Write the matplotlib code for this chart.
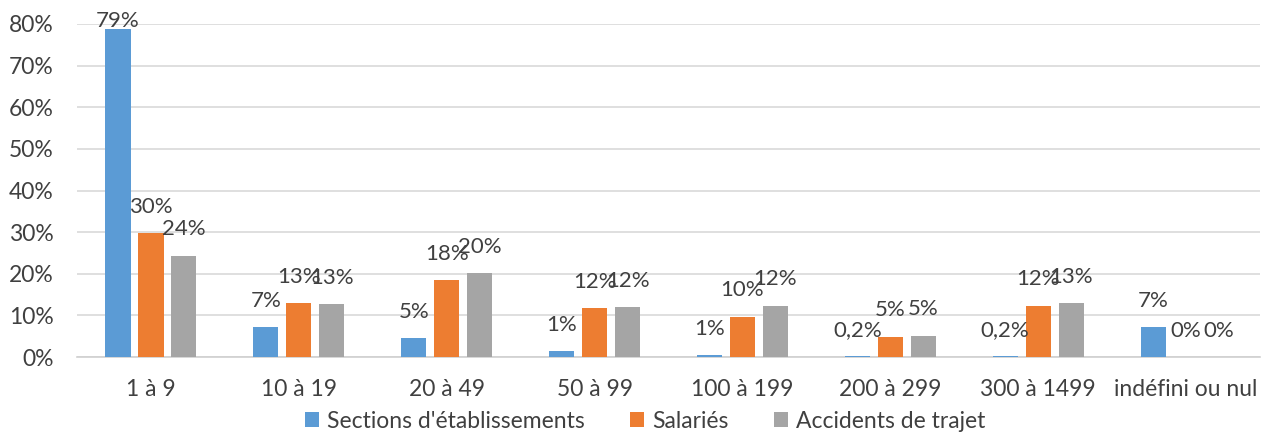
import matplotlib
matplotlib.use("Agg")
import matplotlib.pyplot as plt
import numpy as np
from matplotlib.ticker import FuncFormatter

categories = ["1 à 9", "10 à 19", "20 à 49", "50 à 99", "100 à 199",
              "200 à 299", "300 à 1499", "indéfini ou nul"]
series_names = ["Sections d'établissements", "Salariés", "Accidents de trajet"]
sections = [78.8, 7.1, 4.5, 1.4, 0.4, 0.2, 0.2, 7.2]
salaries = [29.7, 12.9, 18.5, 11.7, 9.7, 4.9, 12.3, 0.0]
accidents = [24.3, 12.7, 20.1, 11.9, 12.3, 5.1, 12.9, 0.0]
sections_lbl = ["79%", "7%", "5%", "1%", "1%", "0,2%", "0,2%", "7%"]
salaries_lbl = ["30%", "13%", "18%", "12%", "10%", "5%", "12%", "0%"]
accidents_lbl = ["24%", "13%", "20%", "12%", "12%", "5%", "13%", "0%"]
yticks = [0, 10, 20, 30, 40, 50, 60, 70, 80]

colors = ["#5B9BD5", "#ED7D31", "#A5A5A5"]
text_color = "#404040"

plt.rcParams['font.family'] = ['Lato', 'DejaVu Sans']

fig = plt.figure(figsize=(12.64, 4.34), dpi=100)
ax = fig.add_axes([77/1264, 1 - 357/434, (1260-77)/1264, (357-24)/434])

x = np.arange(len(categories))
width = 0.17
step = 0.223
data = [sections, salaries, accidents]
labels = [sections_lbl, salaries_lbl, accidents_lbl]
for i, (vals, lbls) in enumerate(zip(data, labels)):
    pos = x + (i - 1) * step
    bars = ax.bar(pos, vals, width, color=colors[i], label=series_names[i], zorder=3)
    for b, v, t in zip(bars, vals, lbls):
        top = b.get_height()
        off = 19
        if top > 75:
            off = 6
        ax.annotate(t, (b.get_x() + b.get_width()/2, top), xytext=(0, off),
                    textcoords="offset points", ha="center", va="center",
                    fontsize=16, color=text_color, zorder=4)

ax.set_xlim(-0.5, len(categories) - 0.5)
ax.set_ylim(0, 80)
ax.set_yticks(yticks)
ax.yaxis.set_major_formatter(FuncFormatter(lambda v, p: f"{int(v)}%"))
ax.set_xticks(x)
ax.set_xticklabels(categories)
ax.tick_params(axis="both", length=0, labelsize=16.5, colors=text_color)
ax.tick_params(axis="y", pad=17)
ax.tick_params(axis="x", pad=16)
ax.grid(axis="y", color="#D9D9D9", linewidth=1.2, zorder=0)
for s in ["left", "right", "top"]:
    ax.spines[s].set_visible(False)
ax.spines["bottom"].set_color("#D0D0D0")
ax.spines["bottom"].set_linewidth(1.2)

leg = ax.legend(loc="center", bbox_to_anchor=(645/1264, 1 - 421/434),
                bbox_transform=fig.transFigure, ncol=3, frameon=False,
                fontsize=16.5, handlelength=0.6, handleheight=0.6,
                handletextpad=0.35, columnspacing=2.0)
for t in leg.get_texts():
    t.set_color(text_color)

fig.savefig("out.png", dpi=100)
